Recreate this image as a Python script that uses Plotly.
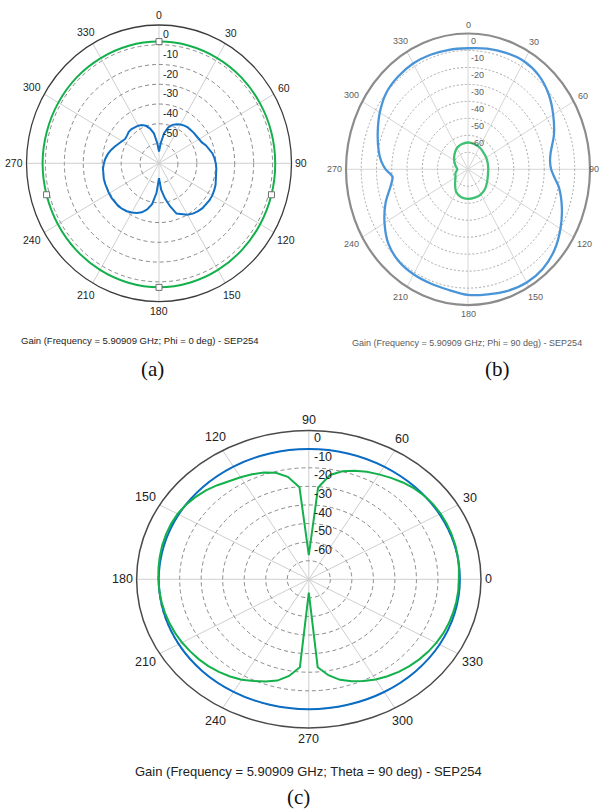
import numpy as np
import plotly.graph_objects as go

W, H = 601, 811

# ---------------- (a) Phi = 0 deg : angle clockwise from top ----------------
theta_a_blue = list(range(0, 360, 5))
gain_a_blue = [-64.0, -59.8, -54.5, -51.2, -49.3, -48.2, -47.3, -46.7, -46.3, -46.1,
               -46.0, -45.9, -45.6, -45.0, -43.6, -42.4, -41.3, -40.6, -40.0, -39.6,
               -39.3, -38.8, -38.2, -37.8, -37.5, -37.4, -37.5, -37.7, -38.2, -38.9,
               -40.0, -41.5, -42.9, -47.5, -52.0, -56.5, -62.5, -55.0, -49.0, -45.8,
               -43.6, -42.3, -41.2, -40.4, -39.8, -39.5, -39.4, -39.4, -39.5, -39.6,
               -39.7, -39.8, -40.0, -40.3, -40.9, -41.6, -42.6, -43.8, -45.2, -46.5,
               -47.6, -48.3, -48.0, -47.4, -47.4, -47.6, -48.0, -48.6, -49.8, -51.8,
               -54.6, -59.8]
theta_a_green = list(range(0, 360, 15))
gain_a_green = [-8.4, -8.4, -8.5, -8.5, -8.6, -8.6, -8.6, -8.5, -8.3, -8.0, -7.7, -7.4,
                -7.2, -7.4, -7.7, -8.0, -8.3, -8.5, -8.5, -8.6, -8.6, -8.5, -8.5, -8.4]
theta_a_marks = [0, 105, 180, 255]

# ---------------- (b) Phi = 90 deg : angle clockwise from top ----------------
theta_b_blue = [0, 10, 20, 30, 40, 50, 60, 70, 80, 85, 90, 95, 100, 110, 120, 130, 140,
                150, 160, 170, 180, 190, 200, 210, 220, 230, 240, 250, 260, 265, 270,
                275, 280, 290, 300, 310, 320, 330, 340, 350]
gain_b_blue = [-8.7, -7.8, -7.0, -6.5, -7.8, -11.0, -15.5, -20.0, -25.0, -26.0,
               -25.5, -23.0, -19.5, -14.5, -10.0, -6.0, -3.6, -3.0, -3.8, -5.2,
               -6.0, -7.8, -8.4, -8.6, -9.3, -11.8, -16.8, -22.5, -28.8, -30.3,
               -26.0, -22.8, -20.6, -17.0, -13.2, -10.0, -8.7, -8.0, -8.2, -8.5]
theta_b_green = list(range(0, 360, 15))
gain_b_green = [-64.2, -64.5, -65.0, -65.8, -66.2, -66.6, -66.7, -66.5, -65.5, -64.0,
                -63.0, -62.7, -62.6, -63.0, -64.5, -68.0, -70.5, -71.5, -73.0, -71.5,
                -69.5, -67.5, -65.5, -64.6]

# ---------------- (c) Theta = 90 deg : angle counter-clockwise from right ----------------
theta_c_blue = list(range(0, 360, 15))
gain_c_blue = [-9.8, -9.8, -9.9, -10.0, -10.0, -9.9, -9.9, -9.9, -10.0, -10.1, -10.2, -10.3,
               -10.3, -10.3, -10.2, -10.1, -10.1, -10.1, -10.1, -10.1, -10.0, -9.9, -9.8, -9.8]
theta_c_green = list(range(0, 360, 5))
gain_c_green = [-10.3, -10.0, -9.7, -9.5, -9.4, -9.3, -9.3, -9.5, -10.0, -10.8,
                -12.0, -13.4, -14.8, -16.2, -17.8, -19.8, -23.0, -30.4, -67.0, -30.3,
                -24.0, -20.7, -18.9, -17.6, -16.6, -15.4, -13.9, -12.4, -11.2, -10.2,
                -9.6, -9.4, -9.4, -9.5, -9.7, -9.9,
                -10.1, -10.3, -10.5, -10.8, -11.1, -11.5, -12.0, -12.6, -13.2, -14.0,
                -15.0, -16.2, -17.6, -19.6, -21.5, -23.6, -27.2, -32.5, -72.8, -32.5,
                -27.6, -24.0, -21.6, -19.6, -17.8, -16.3, -15.0, -13.9, -13.0, -12.2,
                -11.6, -11.1, -10.8, -10.6, -10.4, -10.3]

angle_ticks = list(range(0, 360, 30))

titles = {
    "a": "Gain (Frequency = 5.90909 GHz; Phi = 0 deg) - SEP254",
    "b": "Gain (Frequency = 5.90909 GHz; Phi = 90 deg) - SEP254",
    "c": "Gain (Frequency = 5.90909 GHz; Theta = 90 deg) - SEP254",
}

# Panel geometry (pixel centre / radii of the outer ring) and styling
panels = {
    "a": dict(ax="", cx=159.0, cy=163.3, rx=132.5, ry=138.3, dbmin=-70,
              rlabels=[0, -10, -20, -30, -40, -50], rings=[-10, -20, -30, -40, -50, -60],
              cw=True, fs=10.5, tcol="#222222", outer="#3c3c3c", ow=1.3,
              ring_col="#8a8a8a", ring_dash="4px,3px", spoke="#cfcfcf",
              rl_dx=2.5, rl_dy=9.0),
    "b": dict(ax="2", cx=468.0, cy=169.3, rx=122.0, ry=135.8, dbmin=-80,
              rlabels=[0, -10, -20, -30, -40, -50, -60],
              rings=[-10, -20, -30, -40, -50, -60, -70],
              cw=True, fs=9.0, tcol="#5e5e5e", outer="#8c8c8c", ow=2.2,
              ring_col="#a8a8a8", ring_dash="2px,2px", spoke="#d6d6d6",
              rl_dx=2.0, rl_dy=8.0),
    "c": dict(ax="3", cx=308.8, cy=579.3, rx=172.2, ry=148.7, dbmin=-80,
              rlabels=[0, -10, -20, -30, -40, -50, -60],
              rings=[-10, -20, -30, -40, -50, -60, -70],
              cw=False, fs=12.5, tcol="#222222", outer="#4a4a4a", ow=1.5,
              ring_col="#8a8a8a", ring_dash="4px,3px", spoke="#cfcfcf",
              rl_dx=4.5, rl_dy=7.6),
}
PAD = 1.03


def polar_xy(theta_deg, gain, dbmin, cw, close=True):
    t = np.radians(np.asarray(theta_deg, dtype=float))
    r = np.asarray(gain, dtype=float) - dbmin
    if cw:
        x, y = r * np.sin(t), r * np.cos(t)
    else:
        x, y = r * np.cos(t), r * np.sin(t)
    if close:
        x, y = np.append(x, x[0]), np.append(y, y[0])
    return x, y


fig = go.Figure()
shapes, annotations = [], []
layout_axes = {}

for key, p in panels.items():
    R = -p["dbmin"]
    xa, ya = "x" + p["ax"], "y" + p["ax"]
    layout_axes["xaxis" + p["ax"]] = dict(
        domain=[(p["cx"] - p["rx"] * PAD) / W, (p["cx"] + p["rx"] * PAD) / W],
        range=[-R * PAD, R * PAD], visible=False, fixedrange=True, anchor=ya)
    layout_axes["yaxis" + p["ax"]] = dict(
        domain=[1 - (p["cy"] + p["ry"] * PAD) / H, 1 - (p["cy"] - p["ry"] * PAD) / H],
        range=[-R * PAD, R * PAD], visible=False, fixedrange=True, anchor=xa)
    sx, sy = p["rx"] / R, p["ry"] / R  # pixels per dB

    # spokes
    for a in angle_ticks:
        t = np.radians(a)
        ex, ey = (R * np.sin(t), R * np.cos(t)) if p["cw"] else (R * np.cos(t), R * np.sin(t))
        shapes.append(dict(type="line", xref=xa, yref=ya, x0=0, y0=0, x1=ex, y1=ey,
                           line=dict(color=p["spoke"], width=1), layer="below"))
    # dashed rings
    for v in p["rings"]:
        rr = v - p["dbmin"]
        shapes.append(dict(type="circle", xref=xa, yref=ya, x0=-rr, y0=-rr, x1=rr, y1=rr,
                           line=dict(color=p["ring_col"], width=1, dash=p["ring_dash"]),
                           layer="below"))
    # outer ring
    shapes.append(dict(type="circle", xref=xa, yref=ya, x0=-R, y0=-R, x1=R, y1=R,
                       line=dict(color=p["outer"], width=p["ow"]), layer="below"))

    # angle labels around the rim (placed in paper space, outside the plot area)
    fs = p["fs"]
    for a in angle_ticks:
        t = np.radians(a)
        ux, uy = (np.sin(t), np.cos(t)) if p["cw"] else (np.cos(t), np.sin(t))
        txt = str(a)
        w = 0.556 * fs * len(txt)
        h = 1.1 * fs
        d = 4 + abs(ux) * w / 2 + abs(uy) * h / 2
        px = p["cx"] + p["rx"] * ux + d * ux
        py = p["cy"] - p["ry"] * uy - d * uy
        px = min(px, W - w / 2 - 2)  # keep rim labels inside the page
        annotations.append(dict(x=px / W, y=1 - py / H, xref="paper", yref="paper", text=txt,
                                showarrow=False, xanchor="center", yanchor="middle",
                                font=dict(size=fs, color=p["tcol"],
                                          family="Arial, Liberation Sans")))
    # radial labels
    for v in p["rlabels"]:
        rr = v - p["dbmin"]
        annotations.append(dict(x=p["rl_dx"] / sx, y=rr - p["rl_dy"] / sy, xref=xa, yref=ya,
                                text=str(v), showarrow=False, xanchor="left",
                                yanchor="middle", borderpad=0,
                                font=dict(size=fs, color=p["tcol"],
                                          family="Arial, Liberation Sans")))

# ---- traces ----
pa, pb, pc = panels["a"], panels["b"], panels["c"]

x, y = polar_xy(theta_a_green, gain_a_green, pa["dbmin"], True)
fig.add_trace(go.Scatter(x=x, y=y, xaxis="x", yaxis="y", mode="lines",
                         line=dict(color="#14b04c", width=2, shape="spline"),
                         showlegend=False, hoverinfo="skip"))
x, y = polar_xy(theta_a_blue, gain_a_blue, pa["dbmin"], True)
fig.add_trace(go.Scatter(x=x, y=y, xaxis="x", yaxis="y", mode="lines",
                         line=dict(color="#1170c4", width=2),
                         showlegend=False, hoverinfo="skip"))
green_lookup = dict(zip(theta_a_green, gain_a_green))
x, y = polar_xy(theta_a_marks, [green_lookup[t] for t in theta_a_marks], pa["dbmin"], True,
                close=False)
fig.add_trace(go.Scatter(x=x, y=y, xaxis="x", yaxis="y", mode="markers",
                         marker=dict(symbol="square", size=6, color="white",
                                     line=dict(color="#707070", width=1)),
                         showlegend=False, hoverinfo="skip"))

x, y = polar_xy(theta_b_blue, gain_b_blue, pb["dbmin"], True)
fig.add_trace(go.Scatter(x=x, y=y, xaxis="x2", yaxis="y2", mode="lines",
                         line=dict(color="#4a95d8", width=2.3, shape="spline", smoothing=0.8),
                         showlegend=False, hoverinfo="skip"))
x, y = polar_xy(theta_b_green, gain_b_green, pb["dbmin"], True)
fig.add_trace(go.Scatter(x=x, y=y, xaxis="x2", yaxis="y2", mode="lines",
                         line=dict(color="#3fc073", width=2.3, shape="spline", smoothing=0.8),
                         showlegend=False, hoverinfo="skip"))

x, y = polar_xy(theta_c_blue, gain_c_blue, pc["dbmin"], False)
fig.add_trace(go.Scatter(x=x, y=y, xaxis="x3", yaxis="y3", mode="lines",
                         line=dict(color="#0b6cc4", width=2, shape="spline"),
                         showlegend=False, hoverinfo="skip"))
x, y = polar_xy(theta_c_green, gain_c_green, pc["dbmin"], False)
fig.add_trace(go.Scatter(x=x, y=y, xaxis="x3", yaxis="y3", mode="lines",
                         line=dict(color="#14b04c", width=2),
                         showlegend=False, hoverinfo="skip"))

# ---- captions ----
def paper_text(px, py, text, size, color, family):
    annotations.append(dict(x=px / W, y=1 - py / H, xref="paper", yref="paper", text=text,
                            showarrow=False, xanchor="center", yanchor="middle",
                            font=dict(size=size, color=color, family=family)))

sans = "Arial, Liberation Sans"
serif = "Times New Roman, Liberation Serif"
paper_text(140, 340, titles["a"], 9.5, "#222222", sans)
paper_text(467, 343, titles["b"], 9, "#5a5a5a", sans)
paper_text(308, 771, titles["c"], 13, "#222222", sans)
paper_text(152, 369, "(a)", 21, "#111111", serif)
paper_text(497, 369, "(b)", 21, "#111111", serif)
paper_text(298, 797, "(c)", 21, "#111111", serif)

fig.update_layout(width=W, height=H, margin=dict(l=0, r=0, t=0, b=0),
                  paper_bgcolor="white", plot_bgcolor="rgba(0,0,0,0)",
                  shapes=shapes, annotations=annotations, **layout_axes)

fig.write_html("out.html")
